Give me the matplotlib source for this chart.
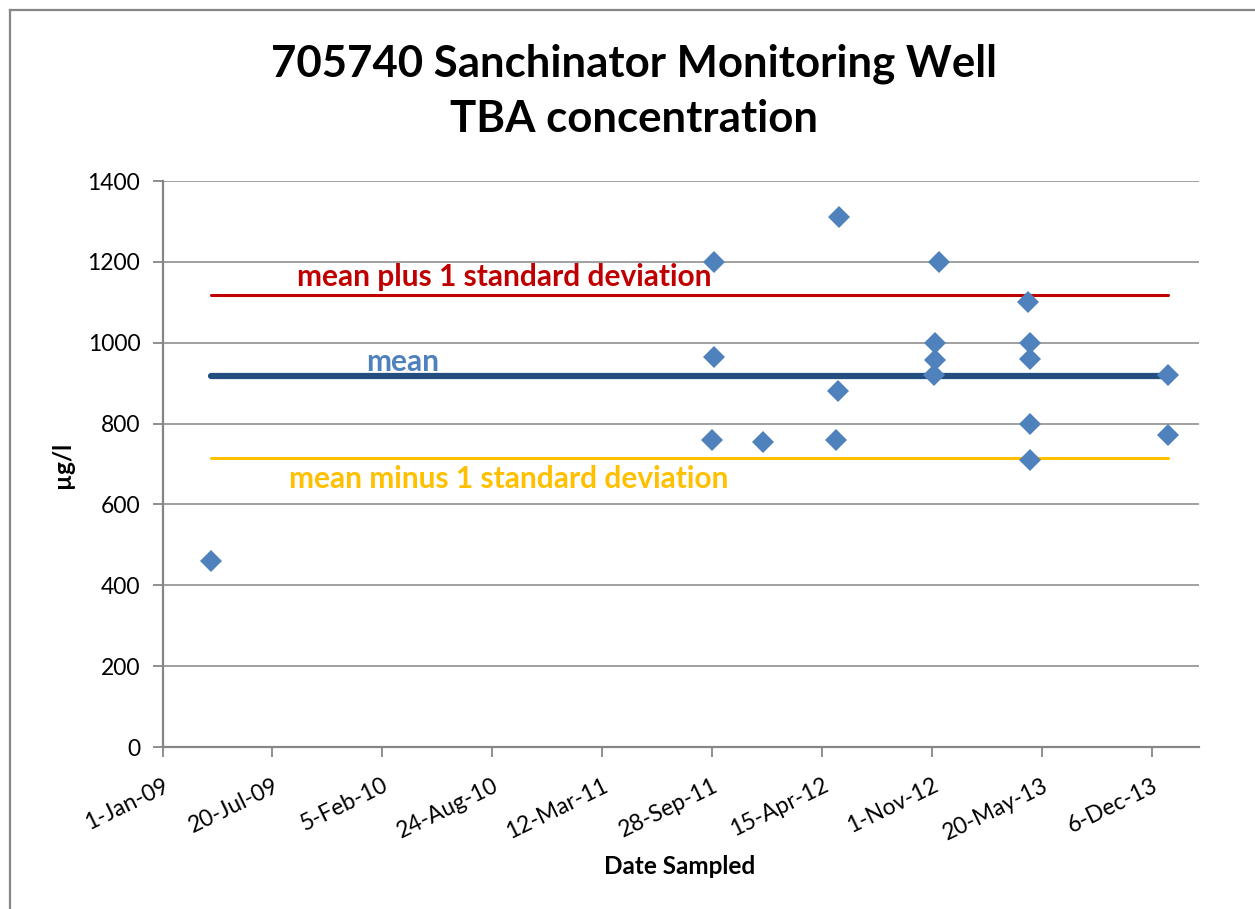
import datetime as dt
import numpy as np
import matplotlib
matplotlib.use("Agg")
import matplotlib.pyplot as plt
from matplotlib.lines import Line2D

plt.rcParams['font.family'] = ['Lato', 'DejaVu Sans']

# ---- data ----
sample_dates = ['2009-03-31', '2011-09-28', '2011-10-01', '2011-10-01', '2011-12-29',
                '2012-05-10', '2012-05-14', '2012-05-15', '2012-11-04', '2012-11-07',
                '2012-11-07', '2012-11-14', '2013-04-25', '2013-04-28', '2013-04-28',
                '2013-04-28', '2013-04-28', '2014-01-05', '2014-01-05']
tba_values = [460, 760, 1200, 965, 755,
              760, 880, 1310, 920, 1000,
              958, 1200, 1100, 1000, 960,
              800, 710, 920, 772]
x_tick_labels = ['1-Jan-09', '20-Jul-09', '5-Feb-10', '24-Aug-10', '12-Mar-11',
                 '28-Sep-11', '15-Apr-12', '1-Nov-12', '20-May-13', '6-Dec-13']
y_ticks = [0, 200, 400, 600, 800, 1000, 1200, 1400]
x_limits = ['2009-01-01', '2014-03-01']

title = '705740 Sanchinator Monitoring Well\nTBA concentration'
x_label = 'Date Sampled'
y_label = 'µg/l'

# ---- derived ----
dates = [dt.datetime.strptime(d, '%Y-%m-%d') for d in sample_dates]
tick_dates = [dt.datetime.strptime(t, '%d-%b-%y') for t in x_tick_labels]
xlim = [dt.datetime.strptime(d, '%Y-%m-%d') for d in x_limits]
vals = np.array(tba_values, dtype=float)
mean_v = vals.mean()
sd_v = vals.std(ddof=1)
line_x = [min(dates), max(dates)]

W, H = 1255, 909
fig = plt.figure(figsize=(W / 100, H / 100), dpi=100)
ax = fig.add_axes([162.5 / W, 1 - 747 / H, (1198.7 - 162.5) / W, (747 - 181) / H])

grid_c = '#868686'
ax.set_ylim(0, 1400)
ax.set_xlim(xlim)
ax.set_yticks(y_ticks)
ax.yaxis.grid(True, color=grid_c, linewidth=1.1)
ax.set_axisbelow(True)
for s in ['top', 'right']:
    ax.spines[s].set_visible(False)
for s in ['left', 'bottom']:
    ax.spines[s].set_color(grid_c)
    ax.spines[s].set_linewidth(1.6)

ax.set_xticks(tick_dates)
ax.set_xticklabels(x_tick_labels, rotation=26, ha='right', rotation_mode='anchor')
ax.tick_params(axis='both', colors=grid_c, length=7, width=1.3, labelcolor='black', labelsize=16.5)
ax.tick_params(axis='x', pad=13)
ax.tick_params(axis='y', pad=9)

# statistic lines
ax.plot(line_x, [mean_v + sd_v] * 2, color='#C00000', lw=2.2, solid_capstyle='round', zorder=2)
ax.plot(line_x, [mean_v] * 2, color='#254E80', lw=4.5, solid_capstyle='round', zorder=2)
ax.plot(line_x, [mean_v - sd_v] * 2, color='#FFC000', lw=2.2, solid_capstyle='round', zorder=2)

# data points
ax.plot(dates, vals, linestyle='none', marker='D', markersize=11, color='#4F81BD',
        markeredgewidth=0, zorder=3)

# labels on lines
fig.text(504 / W, 1 - 277 / H, 'mean plus 1 standard deviation', color='#C00000',
         fontsize=21.5, fontweight='bold', ha='center', va='center')
fig.text(403 / W, 1 - 362 / H, 'mean', color='#4F81BD',
         fontsize=21.5, fontweight='bold', ha='center', va='center')
fig.text(509 / W, 1 - 479 / H, 'mean minus 1 standard deviation', color='#FFC000',
         fontsize=21.5, fontweight='bold', ha='center', va='center')

fig.text(634 / W, 1 - 91 / H, title, fontsize=31.5, fontweight='bold', ha='center',
         va='center', linespacing=1.45)
fig.text(680 / W, 1 - 867 / H, x_label, fontsize=17.5, fontweight='bold', ha='center', va='center')
fig.text(63 / W, 1 - 465 / H, y_label, fontsize=17.5, fontweight='bold', ha='center',
         va='center', rotation=90)

# outer chart border (left and top edges visible)
fig.add_artist(Line2D([10 / W, 10 / W], [0, 1 - 10 / H], color=grid_c, lw=1.6,
                      transform=fig.transFigure))
fig.add_artist(Line2D([10 / W, 1], [1 - 10 / H, 1 - 10 / H], color=grid_c, lw=1.6,
                      transform=fig.transFigure))

fig.savefig('out.png', dpi=100)
